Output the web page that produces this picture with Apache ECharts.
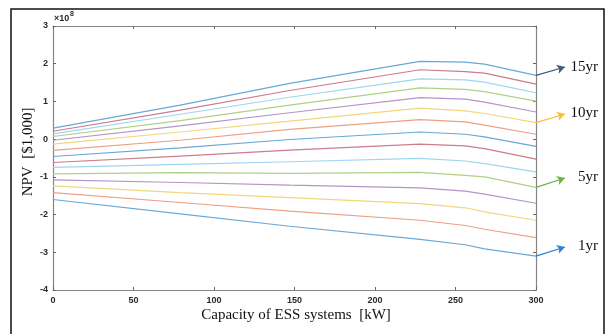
<!DOCTYPE html>
<html><head><meta charset="utf-8">
<script src="https://cdn.jsdelivr.net/npm/echarts@6/dist/echarts.min.js"></script>
<style>html,body{margin:0;padding:0;background:#fff}#c{width:608px;height:334px}</style>
</head><body><div id="c"></div>
<script>
// Capacity of ESS systems [kW] sample points
const capacityKW = [0, 79, 147, 228, 256, 268, 300];
// NPV values in units of 1e8 ($1,000), one array per project life
const npv1yr  = [-1.60, -1.98, -2.31, -2.66, -2.80, -2.91, -3.10];
const npv2yr  = [-1.42, -1.68, -1.91, -2.15, -2.29, -2.39, -2.61];
const npv3yr  = [-1.24, -1.42, -1.55, -1.71, -1.82, -1.93, -2.15];
const npv4yr  = [-1.08, -1.15, -1.22, -1.29, -1.38, -1.46, -1.70];
const npv5yr  = [-0.92, -0.89, -0.91, -0.88, -0.96, -1.00, -1.28];
const npv6yr  = [-0.75, -0.67, -0.60, -0.51, -0.58, -0.65, -0.87];
const npv7yr  = [-0.62, -0.45, -0.29, -0.13, -0.18, -0.25, -0.53];
const npv8yr  = [-0.46, -0.23, -0.01, 0.19, 0.13, 0.06, -0.19];
const npv9yr  = [-0.30, -0.03, 0.26, 0.52, 0.46, 0.37, 0.13];
const npv10yr = [-0.13, 0.19, 0.48, 0.82, 0.75, 0.68, 0.44];
const npv11yr = [-0.03, 0.35, 0.70, 1.10, 1.06, 0.98, 0.72];
const npv12yr = [0.07, 0.49, 0.90, 1.36, 1.32, 1.26, 1.01];
const npv13yr = [0.14, 0.66, 1.11, 1.60, 1.57, 1.51, 1.23];
const npv14yr = [0.21, 0.77, 1.29, 1.84, 1.79, 1.75, 1.46];
const npv15yr = [0.29, 0.90, 1.48, 2.06, 2.04, 1.99, 1.69];
const seriesNames = ['1yr','2yr','3yr','4yr','5yr','6yr','7yr','8yr','9yr','10yr','11yr','12yr','13yr','14yr','15yr'];
const seriesValues = [npv1yr,npv2yr,npv3yr,npv4yr,npv5yr,npv6yr,npv7yr,npv8yr,npv9yr,npv10yr,npv11yr,npv12yr,npv13yr,npv14yr,npv15yr];
const xTicks = {min: 0, max: 300, interval: 50};
const yTicks = {min: -4, max: 3, interval: 1};
const annotated = {'15yr': {color: '#3f5b7d', tip: [565, 67], ly: 67},
                   '10yr': {color: '#f6c033', tip: [565, 114], ly: 113},
                   '5yr':  {color: '#6db04a', tip: [565, 178], ly: 177},
                   '1yr':  {color: '#2d80d2', tip: [565, 247], ly: 246}};

const palette = ['#6aa8d6', '#eca186', '#f2d680', '#b595c4', '#b0cf87', '#9dd6ef', '#cc7c8a'];

const chart = echarts.init(document.getElementById('c'), null, {renderer: 'canvas'});
const tickFont = {fontFamily: 'Liberation Sans, Arial, sans-serif', fontWeight: 'bold', fontSize: 9, color: '#2a2a2a'};
const axisLineStyle = {lineStyle: {color: '#858585', width: 1.2}};
const tickStyle = {show: true, inside: true, length: 3, lineStyle: {color: '#666'}};

const series = seriesNames.map((name, i) => {
  const s = {
    name, type: 'line', showSymbol: false, symbol: 'none', smooth: false, clip: false,
    lineStyle: {width: 1.2, color: palette[i % 7]},
    itemStyle: {color: palette[i % 7]},
    data: capacityKW.map((x, j) => [x, seriesValues[i][j]]),
    z: 2
  };
  const a = annotated[name];
  if (a) {
    const last = capacityKW.length - 1;
    s.markLine = {
      silent: true, animation: false,
      symbol: ['none', 'arrow'], symbolSize: [7, 8],
      lineStyle: {color: a.color, type: 'solid', width: 1.3},
      label: {show: false},
      data: [[{coord: [capacityKW[last], seriesValues[i][last]]}, {x: a.tip[0], y: a.tip[1]}]]
    };
  }
  return s;
});

const graphics = [
  {type: 'rect', shape: {x: 11, y: 9, width: 593, height: 340}, style: {fill: 'none', stroke: '#111', lineWidth: 1.5}, silent: true},
  {type: 'text', left: 54, top: 14, style: {text: '×10', font: 'bold 9px "Liberation Sans", Arial, sans-serif', fill: '#2a2a2a'}},
  {type: 'text', left: 70, top: 11, style: {text: '8', font: 'bold 7px "Liberation Sans", Arial, sans-serif', fill: '#2a2a2a'}},
  {type: 'text', x: 28, y: 152, rotation: Math.PI / 2,
   style: {text: 'NPV  [$1,000]', font: '15px "Liberation Serif", "Times New Roman", serif', fill: '#111', align: 'center', verticalAlign: 'middle'}},
  {type: 'text', x: 296, y: 315,
   style: {text: 'Capacity of ESS systems  [kW]', font: '15px "Liberation Serif", "Times New Roman", serif', fill: '#111', align: 'center', verticalAlign: 'middle'}}
];
Object.keys(annotated).forEach(k => {
  graphics.push({type: 'text', x: 598, y: annotated[k].ly,
    style: {text: k, font: '15px "Liberation Serif", "Times New Roman", serif', fill: '#111', align: 'right', verticalAlign: 'middle'}});
});

chart.setOption({
  animation: false,
  backgroundColor: '#fff',
  grid: {left: 53, right: 72, top: 26, bottom: 44, containLabel: false},
  xAxis: [
    {type: 'value', min: xTicks.min, max: xTicks.max, interval: xTicks.interval, position: 'bottom',
     axisLine: {show: true, onZero: false, ...axisLineStyle}, axisTick: tickStyle,
     axisLabel: {...tickFont, margin: 6}, splitLine: {show: false}},
    {type: 'value', min: xTicks.min, max: xTicks.max, interval: xTicks.interval, position: 'top',
     axisLine: {show: true, onZero: false, ...axisLineStyle}, axisTick: tickStyle,
     axisLabel: {show: false}, splitLine: {show: false}}
  ],
  yAxis: [
    {type: 'value', min: yTicks.min, max: yTicks.max, interval: yTicks.interval, position: 'left',
     axisLine: {show: true, onZero: false, ...axisLineStyle}, axisTick: tickStyle,
     axisLabel: {...tickFont, margin: 5}, splitLine: {show: false}},
    {type: 'value', min: yTicks.min, max: yTicks.max, interval: yTicks.interval, position: 'right',
     axisLine: {show: true, onZero: false, ...axisLineStyle}, axisTick: tickStyle,
     axisLabel: {show: false}, splitLine: {show: false}}
  ],
  series,
  graphic: graphics
});
</script></body></html>
